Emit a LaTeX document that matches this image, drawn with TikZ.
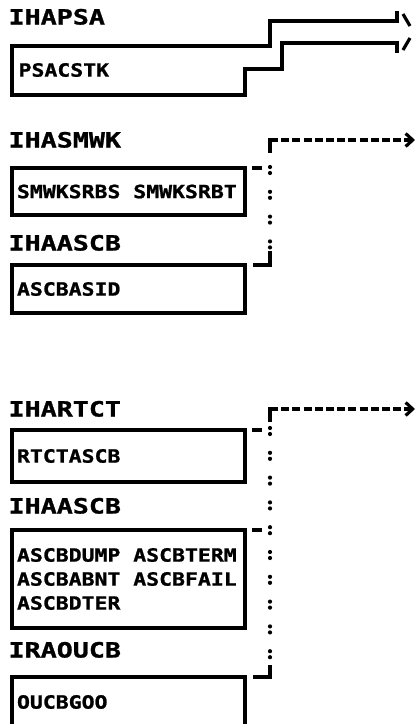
\documentclass[tikz,border=0pt]{standalone}
\usepackage{fontspec}
\usepackage{tikz}
\usetikzlibrary{arrows.meta}
\newfontfamily\lblfont[FakeStretch=1.27, FakeBold=1.2]{DejaVu Sans Mono}
\newfontfamily\boxfont[FakeStretch=1.18, FakeBold=1.2]{DejaVu Sans Mono}
\newcommand\wgap{\kern12.9pt}
\definecolor{inkBlack}{RGB}{0,0,0}

\begin{document}
\begin{tikzpicture}[x=1pt, y=-1pt, line width=3.2pt, inkBlack,
    lbl/.style={anchor=base west, inner sep=0pt, font=\lblfont\bfseries\fontsize{21}{24}\selectfont},
    boxfnt/.style={font=\boxfont\bfseries\fontsize{18.2}{24}\selectfont},
    cb/.style={boxfnt, draw, anchor=north west, outer sep=0pt, minimum width=233pt, inner xsep=5pt, text width=223pt, align=left},
    link/.style={dash pattern=on 8pt off 3.2pt},
    dots/.style={line cap=round, line width=4.2pt, dash pattern=on 0pt off 6pt on 0pt off 18.8pt}]
\useasboundingbox (0,0) rectangle (419,724);

\node[lbl] (psaLbl) at (7,24.5) {IHAPSA};
\node[boxfnt, anchor=west, inner sep=0pt] (psaBox) at (17,70) {PSACSTK};
\draw (397,11) -- (397,21) -- (270,21) -- (270,46) -- (12,46) -- (12,95) -- (245,95)
      -- (245,69) -- (282,69) -- (282,43) -- (397,43) -- (397,53);
\draw (403,14) -- (410,26);
\draw (403,50) -- (410,38);

\node[lbl] (smwkLbl) at (7,147.5) {IHASMWK};
\node[cb, minimum height=47pt] (smwkBox) at (12,168) {SMWKSRBS\wgap SMWKSRBT};
\node[lbl] (ascbLbl) at (7,250.5) {IHAASCB};
\node[cb, minimum height=48pt] (ascbBox) at (12,265) {ASCBASID};

\coordinate (topA) at (270,140);
\coordinate (endA) at (415,140);
\coordinate (footA) at (270,265);
\draw[link, -{Straight Barb[length=7pt,width=13pt]}] (topA) -- (endA);
\draw[line cap=rect] (topA) -- ++(0,11);
\draw[dots] (270,167) -- (270,248);
\draw (270,251) -- (footA) -- ++(-17,0);
\draw ([xshift=7pt]smwkBox.north east) -- ++(10,0);

\node[lbl] (rtctLbl) at (7,416.5) {IHARTCT};
\node[cb, minimum height=52pt] (rtctBox) at (12,430) {RTCTASCB};
\node[lbl] (ascbLblB) at (7,513.5) {IHAASCB};
\node[cb, minimum height=98pt] (ascbBoxB) at (12,530)
  {ASCBDUMP\wgap ASCBTERM\\ASCBABNT\wgap ASCBFAIL\\ASCBDTER};
\node[lbl] (oucbLbl) at (7,657.5) {IRAOUCB};
\node[cb, minimum height=50pt] (oucbBox) at (12,677) {OUCBGOO};

\coordinate (topB) at (270,409);
\coordinate (endB) at (415,409);
\coordinate (footB) at (270,677);
\draw[link, -{Straight Barb[length=7pt,width=13pt]}] (topB) -- (endB);
\draw[line cap=rect] (topB) -- ++(0,11);
\draw[dots] (270,428) -- (270,658);
\draw (270,665) -- (footB) -- ++(-17,0);
\draw ([xshift=7pt]rtctBox.north east) -- ++(10,0);
\draw ([xshift=7pt]ascbBoxB.north east) -- ++(10,0);
\end{tikzpicture}
\end{document}
